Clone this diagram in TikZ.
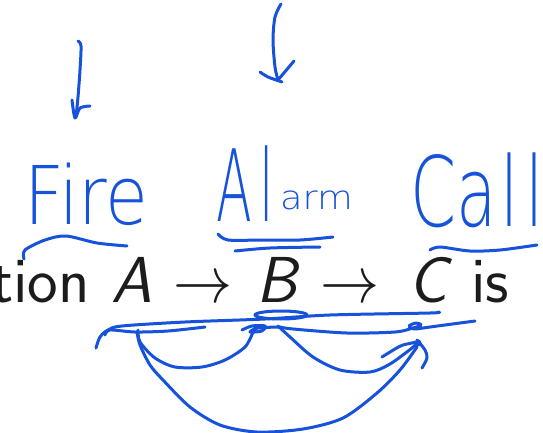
\documentclass[tikz,border=0pt]{standalone}
\usepackage{fontspec}
\usepackage{graphicx}
\IfFontExistsTF{DejaVu Sans ExtraLight}
  {\newfontfamily\handfont{DejaVu Sans ExtraLight}}
  {\newfontfamily\handfont{DejaVu Sans}}
\definecolor{handblue}{RGB}{22,82,218}
\definecolor{textgray}{RGB}{28,28,28}
\newcommand{\bigto}{\scalebox{5.9}[6.6]{\normalsize$\rightarrow$}}
\tikzset{
  ink/.style={draw=handblue, line width=3pt, line cap=round, line join=round},
  hw/.style={text=handblue, font=\handfont, inner sep=0pt, transform shape},
  txt/.style={text=textgray, font=\sffamily\fontsize{65}{70}\selectfont, inner sep=0pt},
}
\begin{document}
\begin{tikzpicture}[x=1pt,y=-1pt]
\useasboundingbox (0,0) rectangle (543,433);
\clip (0,0) rectangle (543,433);

% printed line of text
\node[txt, anchor=base east] (tion) at (90,302) {tion};
\node[txt, anchor=base] (A) at (132,302) {\itshape A};
\node[txt, anchor=base] (ar1) at (203,302) {\bigto};
\node[txt, anchor=base] (B) at (277,302) {\itshape B};
\node[txt, anchor=base] (ar2) at (350,302) {\bigto};
\node[txt, anchor=base] (C) at (428,302) {\itshape C};
\node[txt, anchor=base] (is) at (490,302) {is};

% handwritten words
\node[hw, anchor=base west, xscale=0.86] (fire) at (24,224)
  {\fontsize{81}{90}\selectfont Fire};
\node[hw, anchor=base west] (alarm) at (216,221)
  {\scalebox{0.55}[1.05]{\fontsize{95}{100}\selectfont A\kern14pt l}\hspace{6pt}\raisebox{12pt}{\scalebox{1.05}[0.95]{\fontsize{35}{40}\selectfont arm}}};
\node[hw, anchor=base west, xscale=0.68] (call) at (410,226)
  {\fontsize{97}{100}\selectfont Ca\kern6pt l\kern10pt l};

% arrows pointing down
\draw[ink] plot[smooth] coordinates {(78,41) (81,46) (80,70) (78,97) (76,117)};
\draw[ink] plot[smooth] coordinates {(72,100) (75,118) (80,108) (90,106)};
\draw[ink] plot[smooth] coordinates {(281,4) (275,17) (273,40) (275,67) (278,80)};
\draw[ink] plot[smooth] coordinates {(260,72) (268,77) (282,82)};
\draw[ink] (294,61) -- (278,80);

% overlines
\draw[ink] plot[smooth] coordinates {(24,259) (25,250) (45,240) (66,236) (97,243) (127,246)};
\draw[ink] plot[smooth] coordinates {(218,234) (228,240) (263,240) (300,240) (333,237)};
\draw[ink] plot[smooth] coordinates {(235,251) (270,248) (320,247)};
\draw[ink] plot[smooth] coordinates {(430,250) (440,247) (470,251) (500,250) (537,245)};

% lines under the text
\draw[ink] plot[smooth] coordinates {(96,348) (100,337) (108,330) (122,326) (185,322) (265,319) (330,315) (430,313) (438,312)};
\draw[ink] plot[smooth] coordinates {(105,335) (110,330) (135,332) (168,331) (205,327)};
\draw[ink] (281,315) ellipse [x radius=26pt, y radius=4pt];
\draw[ink] plot[smooth] coordinates {(242,330) (252,326) (265,326) (262,331) (250,332) (258,328) (280,327)};
\draw[ink] plot[smooth] coordinates {(280,327) (293,329) (347,333) (395,332) (413,328) (421,325) (416,323) (409,326) (414,329) (430,327) (475,321)};

% arcs
\draw[ink] plot[smooth] coordinates {(138,330) (140,342) (155,358) (175,367) (202,367) (225,360) (245,347) (253,332)};
\draw[ink] plot[smooth] coordinates {(278,326) (290,337) (313,357) (340,370) (370,372) (390,364) (412,348) (417,343)};
\draw[ink] plot[smooth] coordinates {(137,332) (140,345) (150,365) (163,380) (190,407) (220,425) (257,432) (303,429) (343,418) (377,393) (400,370) (417,347)};
\draw[ink] plot[smooth] coordinates {(382,357) (395,349) (403,345) (417,342)};
\draw[ink] plot[smooth] coordinates {(417,340) (425,350) (427,358) (422,368)};
\fill[handblue] (418,343) circle (3.5pt);
\end{tikzpicture}
\end{document}
